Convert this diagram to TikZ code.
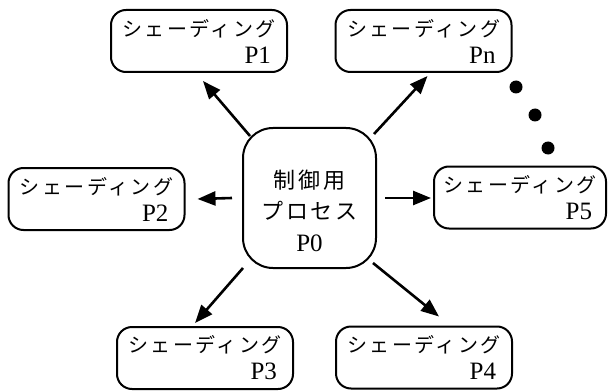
\documentclass[tikz,border=0pt]{standalone}
\usepackage{fontspec}
\setmainfont{Liberation Serif}
\newfontfamily\kana[LetterSpace=12]{Noto Sans CJK JP}
\newfontfamily\ctrlkana[LetterSpace=12]{Noto Sans CJK JP}
\usetikzlibrary{arrows.meta,calc}

% text of a shading box: spaced katakana line, process label set right
\newcommand\shadetext[1]{%
  \parbox{164pt}{%
    {\centering\fontsize{20}{27}\selectfont\kana シェーディング\par}%
    {\raggedleft\fontsize{25}{27}\selectfont #1\hspace*{10pt}\par}}}

\tikzset{
  shadebox/.style={draw, line width=2pt, rounded corners=15pt,
    minimum width=176pt, minimum height=62pt, inner sep=0pt},
  ctrlbox/.style={draw, line width=2pt, rounded corners=30pt,
    minimum width=133pt, minimum height=140pt, inner sep=0pt},
  link/.style={line width=2.6pt, -{Triangle[length=18pt,width=14pt]}},
  moredot/.style={circle, fill, inner sep=0pt, minimum size=13pt}
}

\begin{document}
\begin{tikzpicture}[x=1pt, y=-1pt]
  \useasboundingbox (0,0) rectangle (609,390);

  % control process in the middle
  \node[ctrlbox] (p0) at (309.5,198) {%
    \parbox{126pt}{\vspace*{26pt}\centering
      {\fontsize{22}{31}\selectfont\ctrlkana 制御用\\プロセス\par}%
      \vspace{4pt}{\fontsize{25}{28}\selectfont P0\par}}};

  % shading processes around it
  \node[shadebox] (p1) at (199,41)    {\shadetext{P1}};
  \node[shadebox] (pn) at (423.5,41)  {\shadetext{Pn}};
  \node[shadebox] (p2) at (96.5,199)  {\shadetext{P2}};
  \node[shadebox, minimum width=172pt] (p5) at (520,197.5) {\shadetext{P5}};
  \node[shadebox] (p3) at (205,358)   {\shadetext{P3}};
  \node[shadebox] (p4) at (424,357.5) {\shadetext{P4}};

  % dots standing for the processes between Pn and P5
  \node[moredot] (d1) at (516,87) {};
  \node[moredot] (d2) at (535,115) {};
  \node[moredot] (d3) at (548,148) {};

  % arrow ends, just off the box outlines
  \coordinate (s1) at ($(p0.north west)+(8,9)$);
  \coordinate (t1) at ($(p1.south east)+(-85,8)$);
  \coordinate (sn) at ($(p0.north east)+(-3,7)$);
  \coordinate (tn) at ($(pn.south west)+(93,3)$);
  \coordinate (s2) at ($(p0.west)+(-10,0)$);
  \coordinate (t2) at ($(p2.east)+(12,0)$);
  \coordinate (s5) at ($(p0.east)+(8,0)$);
  \coordinate (t5) at ($(p5.west)+(-2,0.5)$);
  \coordinate (s3) at ($(p0.south west)+(1,-1)$);
  \coordinate (t3) at ($(p3.north west)+(79,-3)$);
  \coordinate (s4) at ($(p0.south east)+(-4,-6)$);
  \coordinate (t4) at ($(p4.north west)+(104,-9)$);

  \draw[link] (s1) -- (t1);
  \draw[link] (sn) -- (tn);
  \draw[link] (s2) -- (t2);
  \draw[link] (s5) -- (t5);
  \draw[link] (s3) -- (t3);
  \draw[link] (s4) -- (t4);
\end{tikzpicture}
\end{document}
